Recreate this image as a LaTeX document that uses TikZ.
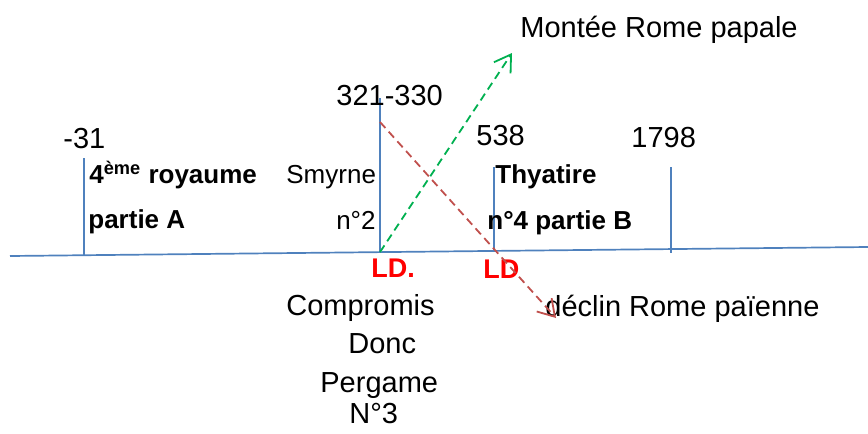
\documentclass[tikz,border=0pt]{standalone}
\usepackage{fontspec}
\setmainfont{Liberation Sans}
\usetikzlibrary{arrows.meta}
\definecolor{tl}{RGB}{79,129,189}
\definecolor{gr}{RGB}{0,176,80}
\definecolor{rd}{RGB}{192,80,77}
\begin{document}
\begin{tikzpicture}[x=0.5pt,y=-0.5pt,
  big/.style={font=\fontsize{14.5}{18}\selectfont, inner sep=0, anchor=base west},
  mid/.style={font=\fontsize{13}{16}\selectfont, inner sep=0, anchor=base west},
  bmid/.style={font=\fontsize{13}{16}\selectfont\bfseries, inner sep=0, anchor=base west},
  ldlab/.style={font=\fontsize{13.5}{16}\selectfont\bfseries, text=red, inner sep=0, anchor=base west},
  axisline/.style={draw=tl, line width=0.85pt},
  grarrow/.style={draw=gr, line width=0.9pt, dash pattern=on 4pt off 2.5pt, -{Straight Barb[length=8pt,width=10pt]}},
  rdarrow/.style={draw=rd, line width=0.9pt, dash pattern=on 4pt off 2.5pt, -{Straight Barb[length=8pt,width=10pt]}}]
\useasboundingbox (0,0) rectangle (868,434);
% timeline
\coordinate (L) at (10,256);
\coordinate (R) at (868,247);
\draw[axisline] (L) -- (R);
% ticks
\coordinate (t1top) at (84,158);  \coordinate (t1bot) at (84,255.2);
\coordinate (t2top) at (380,98);  \coordinate (t2bot) at (380,252.1);
\coordinate (t3top) at (494,167); \coordinate (t3bot) at (494,250.9);
\coordinate (t4top) at (671,167); \coordinate (t4bot) at (671,253);
\draw[axisline] (t1top) -- (t1bot);
\draw[axisline] (t2top) -- (t2bot);
\draw[axisline] (t3top) -- (t3bot);
\draw[axisline] (t4top) -- (t4bot);
% dates
\node[big] (d1) at (63,148) {-31};
\node[big] (d2) at (336,105) {321-330};
\node[big] (d3) at (476,145) {538};
\node[big] (d4) at (631,147) {1798};
% labels
\node[bmid] (roy) at (89,183) {4\textsuperscript{ème} royaume};
\node[bmid] (pa) at (88,228) {partie A};
\node[mid] (smy) at (286,183) {Smyrne};
\node[mid, anchor=base east] (n2) at (376,229) {n°2};
\node[bmid] (thy) at (495,183) {Thyatire};
\node[bmid] (n4) at (487,229) {n°4 partie B};
\node[ldlab] (ld1) at (371,277) {LD.};
\node[ldlab] (ld2) at (483,278) {LD};
\node[big] (mon) at (520,37) {Montée Rome papale};
\node[big] (dec) at (545,316) {déclin Rome païenne};
\node[big] (c1) at (286,315) {Compromis};
\node[big] (c2) at (348,353) {Donc};
\node[big] (c3) at (320,392) {Pergame};
\node[big] (c4) at (349,423) {N°3};
% arrows
\coordinate (gstart) at (380,252.1);
\coordinate (gend) at (512,53);
\coordinate (rstart) at (380,122);
\coordinate (rend) at (556,318);
\draw[grarrow] (gstart) -- (gend);
\draw[rdarrow] (rstart) -- (rend);
\end{tikzpicture}
\end{document}
